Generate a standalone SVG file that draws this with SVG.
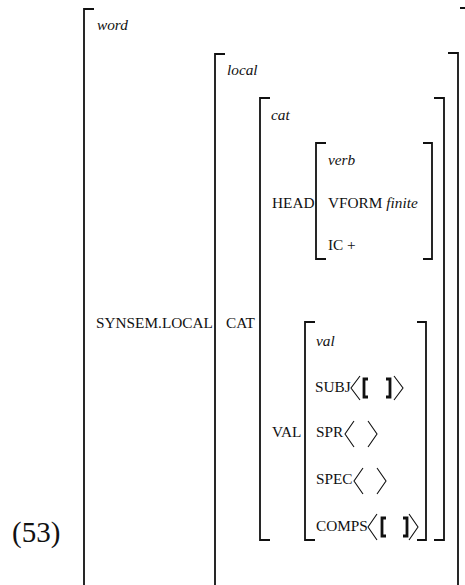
<svg xmlns="http://www.w3.org/2000/svg" width="465" height="585" viewBox="0 0 465 585">
<style>
.b{fill:none;stroke:#111;stroke-width:1.8}
.a{fill:none;stroke:#111;stroke-width:1.1}
.s{fill:none;stroke:#111;stroke-width:2.8}
text{font-family:"Liberation Serif","Times New Roman",serif;font-size:15.3px;fill:#111}
.i{font-style:italic}
</style>
<rect width="465" height="585" fill="#fff"/>
<g id="word">
<path class="b" d="M94,9 H84 V590"/>
<path class="b" d="M460,8 H468 V590"/>
<text class="i" x="97" y="30">word</text>
<text x="96" y="328">SYNSEM.LOCAL</text>
</g>
<g id="local">
<path class="b" d="M225,54 H215 V590"/>
<path class="b" d="M448,53 H458 V590"/>
<text class="i" x="227" y="75">local</text>
<text x="226" y="328">CAT</text>
</g>
<g id="cat">
<path class="b" d="M270,98 H260 V540 H270"/>
<path class="b" d="M434,98 H444 V540 H434"/>
<text class="i" x="271" y="120">cat</text>
<text x="272" y="208">HEAD</text>
<text x="272" y="437">VAL</text>
</g>
<g id="verb">
<path class="b" d="M326,143 H316 V259 H326"/>
<path class="b" d="M423,143 H432 V259 H423"/>
<text class="i" x="328" y="165">verb</text>
<text x="328" y="208">VFORM <tspan class="i">finite</tspan></text>
<text x="328" y="250">IC +</text>
</g>
<g id="val">
<path class="b" d="M315,322 H305 V540 H315"/>
<path class="b" d="M417,322 H426 V540 H417"/>
<text class="i" x="316" y="346">val</text>
<text x="315" y="392">SUBJ</text>
<path class="a" d="M360,376 L351,388 L360,400"/>
<path class="s" d="M368,379 H364 V397 H368"/>
<path class="s" d="M386,379 H390 V397 H386"/>
<path class="a" d="M394,376 L403,388 L394,400"/>
<text x="316" y="437">SPR</text>
<path class="a" d="M354,421 L345,434 L354,447"/>
<path class="a" d="M368,421 L377,434 L368,447"/>
<text x="316" y="484">SPEC</text>
<path class="a" d="M363,468 L354,481 L363,494"/>
<path class="a" d="M377,468 L386,481 L377,494"/>
<text x="316" y="531">COMPS</text>
<path class="a" d="M377,514 L368,527 L377,540"/>
<path class="s" d="M386,518 H382 V536 H386"/>
<path class="s" d="M403,518 H407 V536 H403"/>
<path class="a" d="M409,514 L418,527 L409,540"/>
</g>
<g id="label">
<text x="12" y="542" style="font-size:29px">(53)</text>
</g>
<g id="connectors"></g>
</svg>
